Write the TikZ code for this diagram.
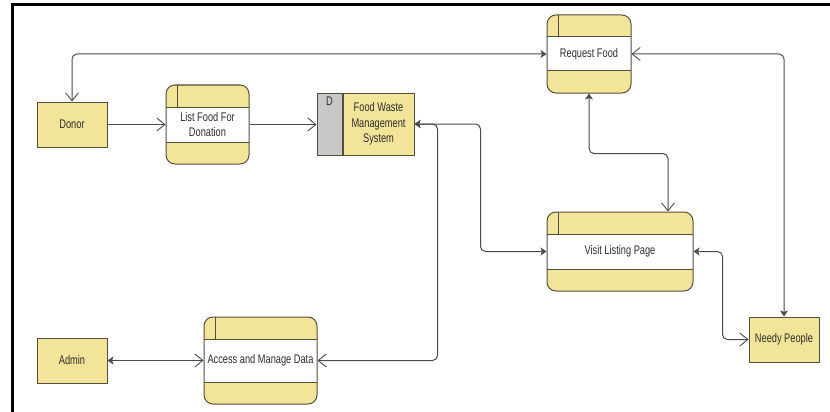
\documentclass[tikz,border=0pt]{standalone}
\usepackage{fontspec}
\setmainfont{Liberation Sans}[FakeStretch=0.74]
\usetikzlibrary{arrows.meta, positioning, calc}
\definecolor{dfdyellow}{RGB}{242,229,153}
\definecolor{dfdgray}{RGB}{200,200,200}
\definecolor{dfdline}{RGB}{75,75,75}
\definecolor{dfdborder}{RGB}{85,78,60}
\definecolor{dfdtext}{RGB}{45,45,45}
\tikzset{
    opentip/.tip={Straight Barb[length=8pt, width=13pt, line width=0.9pt]},
    solidtip/.tip={Stealth[length=6pt, width=8pt, inset=1.5pt]},
    flow/.style={draw=dfdline, line width=1pt, rounded corners=5pt},
    entity/.style={draw=dfdborder, fill=dfdyellow, line width=1pt, minimum width=70pt, minimum height=45pt, text=dfdtext},
    procbox/.style={draw=dfdborder, fill=dfdyellow, line width=1pt, rounded corners=9pt, align=center, text=dfdtext,
        path picture={
            \fill[white, sharp corners] ([yshift=-22pt]path picture bounding box.north west) rectangle ([yshift=22pt]path picture bounding box.south east);
            \draw[dfdborder, line width=1pt, sharp corners] ([yshift=-22pt]path picture bounding box.north west) -- ([yshift=-22pt]path picture bounding box.north east);
            \draw[dfdborder, line width=1pt, sharp corners] ([yshift=22pt]path picture bounding box.south west) -- ([yshift=22pt]path picture bounding box.south east);
            \draw[dfdborder, line width=1pt, sharp corners] ([xshift=11pt]path picture bounding box.north west) -- ([xshift=11pt, yshift=-22pt]path picture bounding box.north west);
        }},
    storeid/.style={draw=dfdborder, fill=dfdgray, line width=1pt, minimum width=25pt, minimum height=62pt, inner sep=0pt},
    storebox/.style={draw=dfdborder, fill=dfdyellow, line width=1pt, minimum width=71pt, minimum height=62pt, inner sep=0pt, align=center, text=dfdtext}
}

\begin{document}
\begin{tikzpicture}[x=1pt, y=-1pt, font=\fontsize{12.5}{15.5}\selectfont]
    \useasboundingbox (0,0) rectangle (830,412);
    % Page frame (left and top edge)
    \draw[line width=3pt] (12,412) -- (12,5) -- (830,5);
    % External entities
    \node[entity] (donor) at (72,124.5) {Donor};
    \node[entity] (admin) at (72,360.5) {Admin};
    \node[entity] (needy) at (784,339.5) {Needy People};
    % Processes
    \node[procbox, minimum width=83pt, minimum height=79pt] (list) at (207.5,124.5) {List Food For\\Donation};
    \node[procbox, minimum width=84pt, minimum height=78pt] (request) at (589,54) {Request Food};
    \node[procbox, minimum width=146pt, minimum height=79pt] (visit) at (620,251.5) {Visit Listing Page};
    \node[procbox, minimum width=113pt, minimum height=87pt] (access) at (260.5,360.5) {Access and Manage Data};
    % Data store
    \node[storeid, label={[anchor=north, inner sep=4pt, text=dfdtext]north:D}] (dbid) at (329.5,124) {};
    \node[storebox, right=0pt of dbid] (fwms) {Food Waste\\Management\\System};
    % Data flows
    \draw[flow, -opentip] (donor.east) -- (list.west);
    \draw[flow, -opentip] (list.east) -- (list.east -| dbid.west);
    \draw[flow, opentip-solidtip] (donor.north) |- (request.west);
    \draw[flow, opentip-solidtip] (request.east) -| (needy.north);
    \draw[flow, solidtip-opentip] (request.south) -- ++(0,60) -| ([xshift=48pt]visit.north);
    \draw[flow, solidtip-solidtip] (fwms.east) -| ($(fwms.east)!0.5!(visit.west)$) |- (visit.west);
    \draw[flow, solidtip-opentip] (fwms.east) -- ++(23,0) |- (access.east);
    \draw[flow, solidtip-opentip] (visit.east) -- ++(29,0) |- (needy.west);
    \draw[flow, solidtip-opentip] (admin.east) -- (access.west);
\end{tikzpicture}
\end{document}
